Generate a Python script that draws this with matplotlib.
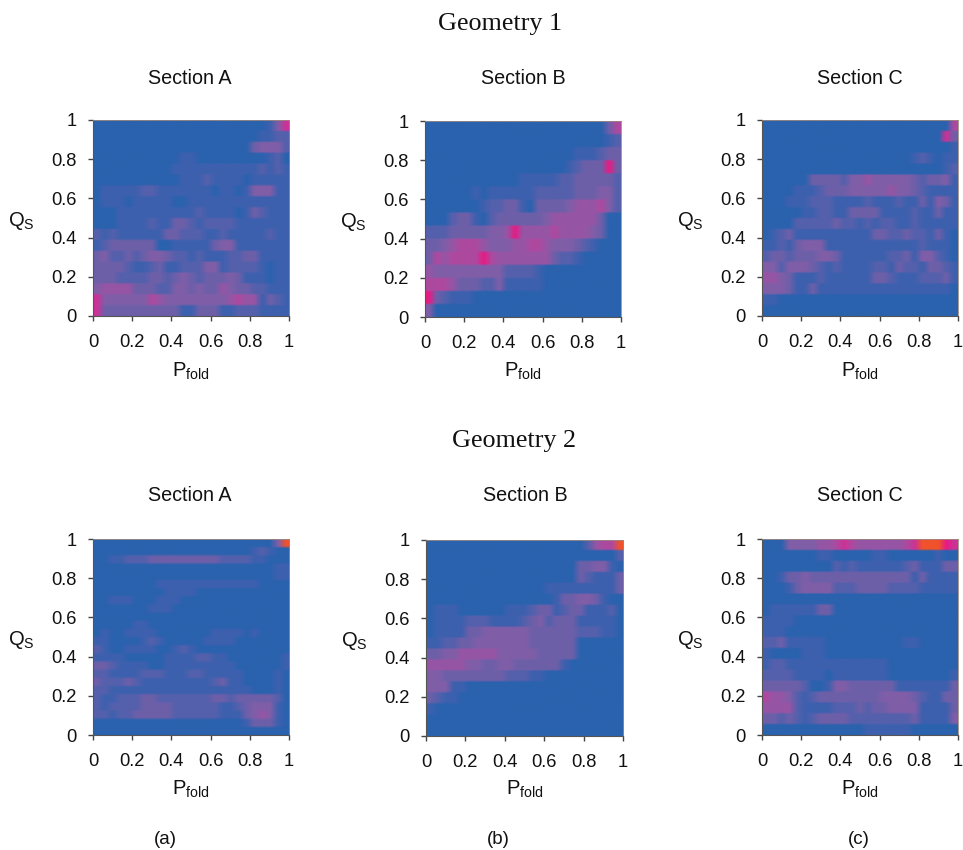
import numpy as np
import matplotlib
matplotlib.use('Agg')
import matplotlib.pyplot as plt
from matplotlib.colors import LinearSegmentedColormap

plt.rcParams['font.family'] = ['Liberation Sans', 'DejaVu Sans']
plt.rcParams['mathtext.fontset'] = 'custom'
plt.rcParams['mathtext.rm'] = 'Liberation Sans'
plt.rcParams['mathtext.default'] = 'regular'

# population per cell, 0-9, rows run from Qs=1 down to Qs=0, columns Pfold 0 to 1
geo1_a = [
 [0,0,0,0,0,0,0,0,0,0,0,0,0,0,0,0,0,0,0,0,0,0,1,4,7],
 [0,0,0,0,0,0,0,0,0,0,0,0,0,0,0,0,0,0,0,0,0,1,1,2,2],
 [0,0,0,0,0,0,0,0,0,0,0,0,0,0,0,0,0,0,0,0,3,4,4,4,2],
 [0,0,0,0,0,0,0,0,0,0,0,1,1,0,0,0,0,0,0,0,0,0,1,2,0],
 [0,0,0,0,0,0,0,0,0,0,1,1,1,1,1,1,1,1,1,1,1,2,1,2,1],
 [0,0,0,0,0,0,0,0,0,0,0,1,1,1,2,1,1,1,1,0,1,1,1,1,1],
 [0,1,1,1,1,1,2,2,1,1,1,1,1,1,1,0,1,1,0,1,4,4,4,1,1],
 [0,1,1,1,0,1,1,1,1,1,0,0,1,1,1,1,1,1,1,1,1,1,1,1,1],
 [0,0,0,1,1,1,1,1,1,1,1,1,1,2,1,1,1,1,0,1,3,2,1,1,1],
 [0,0,0,1,1,1,1,2,1,1,3,3,2,1,2,2,2,2,1,1,1,1,1,1,1],
 [2,1,2,1,1,1,1,1,1,3,3,2,2,2,1,1,2,1,1,1,1,1,2,1,1],
 [1,2,3,3,3,3,3,3,0,0,1,1,1,1,1,3,4,4,1,1,1,1,1,1,1],
 [3,4,2,2,3,2,3,4,4,3,2,2,1,2,1,1,1,2,2,3,3,1,1,1,1],
 [3,3,3,3,2,1,1,2,3,1,1,2,2,2,4,4,1,2,2,2,2,1,0,1,1],
 [3,3,3,2,2,2,2,3,3,2,3,4,3,2,3,3,3,4,3,1,1,1,0,1,1],
 [4,5,5,5,5,3,3,3,2,2,4,4,3,4,3,3,5,4,3,3,2,2,1,1,1],
 [7,4,4,4,4,4,4,6,5,4,4,4,4,4,4,4,4,5,6,5,5,1,3,2,1],
 [7,3,3,3,3,3,3,3,3,3,3,1,1,3,3,3,1,1,2,2,2,1,1,1,1],
]
geo1_b = [
 [0,0,0,0,0,0,0,0,0,0,0,0,0,0,0,0,0,0,0,0,0,0,0,3,6],
 [0,0,0,0,0,0,0,0,0,0,0,0,0,0,0,0,0,0,0,0,0,0,0,1,2],
 [0,0,0,0,0,0,0,0,0,0,0,0,0,0,0,0,0,0,0,1,1,1,2,3,3],
 [0,0,0,0,0,0,0,0,0,0,0,0,0,0,0,0,0,0,1,2,3,3,3,8,3],
 [0,0,0,0,0,0,0,0,0,0,0,0,1,1,1,1,1,2,2,3,3,3,3,3,2],
 [0,0,0,0,0,0,1,0,1,1,1,1,1,1,2,2,2,2,2,3,3,3,4,4,2],
 [0,0,0,0,0,0,0,1,2,2,3,3,1,0,3,3,3,3,4,5,5,5,6,4,2],
 [0,0,0,2,3,3,1,0,2,3,3,3,3,3,3,4,5,5,5,5,5,5,3,0,0],
 [2,2,2,3,3,3,3,3,4,4,5,8,5,5,5,5,6,5,5,5,5,4,3,0,0],
 [3,3,4,5,6,6,6,5,4,4,4,5,5,6,6,5,4,4,4,3,2,1,0,0,0],
 [3,6,5,6,6,6,6,8,6,5,5,5,5,5,5,5,3,2,2,1,0,0,0,0,0],
 [5,4,4,4,4,4,4,4,4,4,2,2,2,2,1,0,0,0,0,0,0,0,0,0,0],
 [6,6,6,5,3,3,3,2,2,4,1,1,1,1,1,0,0,0,0,0,0,0,0,0,0],
 [8,3,2,1,1,1,0,0,0,0,0,0,0,0,0,0,0,0,0,0,0,0,0,0,0],
 [4,0,0,0,0,0,0,0,0,0,0,0,0,0,0,0,0,0,0,0,0,0,0,0,0],
]
geo1_c = [
 [0,0,0,0,0,0,0,0,0,0,0,0,0,0,0,0,0,0,0,0,0,0,0,0,6],
 [0,0,0,0,0,0,0,0,0,0,0,0,0,0,0,0,0,0,0,0,0,0,0,7,3],
 [0,0,0,0,0,0,0,0,0,0,0,0,0,0,0,0,0,0,0,0,0,0,0,0,1],
 [0,0,0,0,0,0,0,0,0,0,0,0,0,0,0,0,0,0,0,1,2,1,0,1,1],
 [0,0,0,0,0,0,0,0,0,0,0,0,0,0,0,0,0,0,0,0,0,0,0,1,2],
 [0,0,0,0,0,0,3,3,3,3,2,4,4,5,4,4,4,4,4,3,2,3,3,4,1],
 [0,0,0,0,1,1,1,2,3,3,3,4,4,4,4,4,5,4,4,3,2,1,1,1,1],
 [0,0,0,1,1,1,2,2,2,1,1,1,1,2,1,1,1,2,1,1,3,1,4,3,1],
 [0,0,0,0,0,1,1,2,2,1,1,3,3,3,3,1,1,1,1,2,1,1,3,1,1],
 [0,0,0,0,2,2,2,2,2,3,2,2,1,2,1,2,2,1,1,2,1,1,1,1,1],
 [0,1,2,3,1,1,1,1,1,1,1,1,1,1,3,3,2,2,3,2,2,1,3,1,0],
 [1,1,2,1,3,4,4,4,1,1,1,1,1,1,1,1,1,1,1,1,2,1,1,1,0],
 [2,3,3,2,3,3,3,4,4,3,1,1,1,1,1,1,2,2,3,1,4,4,2,1,0],
 [4,4,2,4,4,4,3,2,1,2,1,1,1,1,2,2,1,3,2,2,1,3,3,2,1],
 [5,5,4,3,1,1,1,2,1,1,1,1,1,1,3,3,2,1,1,1,2,2,2,3,1],
 [4,4,4,3,1,1,3,1,1,1,1,1,1,1,1,1,1,1,1,1,1,1,1,1,0],
 [1,1,0,0,0,0,0,0,0,0,0,0,0,0,0,0,0,0,0,0,0,0,0,0,0],
 [0,0,0,0,0,0,0,0,0,0,0,0,0,0,0,0,0,0,0,0,0,0,0,0,0],
]
geo2_a = [
 [0,0,0,0,0,0,0,0,0,0,0,0,0,0,0,0,0,0,0,0,0,0,0,4,9],
 [0,0,0,0,0,0,0,0,0,0,0,0,0,0,0,0,0,0,0,0,1,2,1,0,0],
 [0,0,1,1,2,2,2,3,3,3,3,3,3,3,3,3,2,2,2,2,1,1,0,0,0],
 [0,0,0,0,0,0,0,0,0,0,0,0,0,0,0,0,0,0,0,0,0,0,0,1,1],
 [0,0,0,0,0,0,0,0,0,0,0,0,0,0,0,0,0,0,0,0,0,0,0,1,1],
 [0,0,0,0,0,0,0,0,1,1,1,1,1,1,1,1,1,1,1,1,1,0,0,0,0],
 [0,0,0,0,0,0,0,0,0,1,1,1,1,0,0,0,0,0,0,0,0,0,0,0,0],
 [0,0,1,1,1,0,0,0,1,1,1,0,0,0,0,0,0,0,0,0,0,0,0,0,0],
 [0,0,0,0,0,0,0,1,1,1,0,0,0,0,0,0,0,0,0,0,0,0,0,0,0],
 [0,0,0,0,0,0,0,0,0,0,0,0,0,0,0,0,0,0,0,0,0,0,0,0,0],
 [0,0,0,0,0,1,1,0,0,0,0,0,0,0,0,0,0,0,0,0,0,0,0,0,0],
 [0,1,0,0,1,1,1,1,0,0,0,0,0,0,0,1,1,1,1,0,1,0,0,0,0],
 [1,1,0,0,0,0,1,2,1,0,0,0,0,0,1,1,1,1,0,0,0,0,0,0,0],
 [2,1,0,0,1,1,1,1,0,0,1,2,1,0,0,0,0,0,0,0,0,0,0,0,0],
 [1,1,1,1,0,0,0,0,0,1,1,1,1,2,2,1,1,0,0,0,0,0,0,0,1],
 [3,3,2,1,1,1,1,0,0,1,1,1,1,1,1,1,1,1,0,0,0,0,0,0,1],
 [2,2,1,1,1,1,2,2,2,1,1,1,2,2,1,1,1,1,1,0,0,0,0,1,0],
 [3,2,2,2,3,2,1,1,1,1,1,1,1,1,1,2,3,1,1,0,0,0,0,1,0],
 [2,2,1,1,1,1,1,1,1,1,1,1,1,1,1,1,1,1,1,1,0,0,0,1,0],
 [2,1,1,2,2,2,3,3,2,2,2,2,2,2,2,3,3,2,3,3,3,3,3,2,0],
 [2,1,2,2,2,2,3,3,3,3,2,2,2,2,2,2,1,1,2,3,4,4,4,1,0],
 [2,2,1,2,2,3,3,3,3,3,2,2,2,2,2,2,1,1,1,3,4,5,4,1,0],
 [0,0,0,0,0,0,0,0,0,0,0,0,0,0,0,0,0,0,0,1,3,3,3,1,0],
 [0,0,0,0,0,0,0,0,0,0,0,0,0,0,0,0,0,0,0,0,0,0,0,0,0],
]
geo2_b = [
 [0,0,0,0,0,0,0,0,0,0,0,0,0,0,0,0,0,0,0,0,2,5,6,6,9],
 [0,0,0,0,0,0,0,0,0,0,0,0,0,0,0,0,0,0,0,0,0,0,0,0,2],
 [0,0,0,0,0,0,0,0,0,0,0,0,0,0,0,0,0,0,0,3,3,4,4,1,0],
 [0,0,0,0,0,0,0,0,0,0,0,0,0,0,0,0,0,0,0,3,2,1,1,1,3],
 [0,0,0,0,0,0,0,0,0,0,0,0,0,0,0,1,1,1,1,1,1,1,1,1,3],
 [0,0,0,0,0,0,0,0,0,0,0,0,0,0,0,0,1,3,3,4,4,3,1,0,0],
 [0,1,1,1,0,0,0,0,0,0,1,1,1,2,3,3,1,2,3,3,1,1,1,2,0],
 [0,1,1,1,1,2,2,2,1,1,1,1,2,3,4,2,3,3,3,1,1,1,1,1,0],
 [0,1,1,1,1,3,3,4,4,4,4,4,4,3,3,3,3,3,3,2,2,2,1,1,0],
 [1,1,2,2,3,3,4,4,4,4,4,4,4,3,3,3,3,3,3,0,0,0,0,0,0],
 [3,3,4,4,5,5,5,5,5,4,4,4,4,4,3,3,3,3,3,0,0,0,0,0,0],
 [5,5,5,5,5,4,4,3,3,4,4,3,3,3,3,3,3,1,0,0,0,0,0,0,0],
 [4,4,3,3,3,3,3,3,3,3,2,2,2,1,1,0,0,0,0,0,0,0,0,0,0],
 [4,4,4,1,1,0,0,0,0,0,0,0,0,0,0,0,0,0,0,0,0,0,0,0,0],
 [3,2,1,1,0,0,0,0,0,0,0,0,0,0,0,0,0,0,0,0,0,0,0,0,0],
 [1,0,0,0,0,0,0,0,0,0,0,0,0,0,0,0,0,0,0,0,0,0,0,0,0],
 [0,0,0,0,0,0,0,0,0,0,0,0,0,0,0,0,0,0,0,0,0,0,0,0,0],
 [0,0,0,0,0,0,0,0,0,0,0,0,0,0,0,0,0,0,0,0,0,0,0,0,0],
]
geo2_c = [
 [0,0,0,4,4,4,4,5,5,6,7,6,5,5,5,5,5,5,6,7,9,9,9,8,7],
 [0,0,0,0,0,0,0,1,1,0,0,0,0,0,1,1,0,0,0,0,0,0,1,0,0],
 [0,0,0,0,0,0,0,0,0,2,1,2,1,1,1,1,1,1,2,3,1,1,1,3,3],
 [0,0,1,3,3,4,3,3,3,3,3,3,3,3,3,3,3,3,3,1,3,1,1,1,1],
 [0,0,0,1,3,4,4,4,4,2,2,2,3,3,3,3,2,2,2,2,1,1,1,1,1],
 [0,0,0,0,0,0,0,0,0,0,0,0,0,0,0,0,0,0,0,0,0,0,0,0,0],
 [0,1,1,1,1,1,1,3,3,0,0,0,0,0,0,0,0,0,0,0,0,0,0,0,0],
 [1,1,1,1,0,0,0,0,0,0,0,0,0,0,0,0,0,0,0,0,0,0,0,0,0],
 [1,1,1,0,0,0,0,0,0,0,0,0,0,0,0,0,0,0,0,0,0,0,0,0,0],
 [2,2,3,1,1,1,1,1,0,0,0,0,0,0,0,0,0,0,1,1,0,0,0,0,0],
 [1,0,0,0,0,1,1,1,0,0,0,0,0,0,0,0,0,0,0,0,0,0,0,0,0],
 [1,2,2,1,1,1,1,1,1,1,1,1,1,1,1,1,0,0,0,0,0,0,0,0,0],
 [2,2,2,2,1,1,1,1,0,1,1,1,1,1,1,1,0,0,0,0,0,0,0,0,1],
 [3,3,3,3,3,2,0,0,1,4,4,3,3,3,3,3,3,1,1,1,1,1,1,1,3],
 [6,5,5,4,2,1,2,3,3,3,3,3,3,3,3,4,4,4,4,3,2,1,1,3,3],
 [5,5,5,5,2,1,1,1,1,2,2,2,3,2,3,3,4,4,4,4,1,1,1,1,3],
 [3,3,2,3,2,1,2,3,3,3,3,2,2,2,2,2,2,2,2,3,1,1,1,1,4],
 [0,0,0,0,0,0,0,0,0,0,0,0,0,1,1,1,1,1,1,0,0,0,0,0,0],
]

ticks = [0, 0.2, 0.4, 0.6, 0.8, 1]
tick_labels = ['0', '0.2', '0.4', '0.6', '0.8', '1']

cmap = LinearSegmentedColormap.from_list('fold', [
    (0.0, '#2a62ae'), (0.11, '#3e60ae'), (0.22, '#5560ac'), (0.33, '#6d5fa9'),
    (0.44, '#7f5ea8'), (0.55, '#9456a5'), (0.66, '#ab4ba0'), (0.78, '#cc3296'),
    (0.89, '#e61c84'), (1.0, '#f0522c')])

W, H = 963, 850
fig = plt.figure(figsize=(W / 100, H / 100), dpi=100)
fig.patch.set_facecolor('white')

def panel(grid, x0, x1, y0, y1, title, title_x, title_y, label_x, label_y):
    ax = fig.add_axes([x0 / W, 1 - y1 / H, (x1 - x0) / W, (y1 - y0) / H])
    # repeat rows so the smoothing mostly shows along Pfold
    rep = 90 // len(grid)
    cells = np.repeat(np.array(grid, dtype=float), rep, axis=0)
    ax.imshow(cells, cmap=cmap, vmin=0, vmax=9, extent=[0, 1, 0, 1],
              aspect='auto', interpolation='bilinear')
    ax.set_xticks(ticks)
    ax.set_xticklabels(tick_labels)
    ax.set_yticks(ticks)
    ax.set_yticklabels(tick_labels)
    ax.tick_params(length=3.6, width=1, color='#444444', labelsize=13.2, pad=9.5,
                   labelcolor='#111111')
    ax.tick_params(axis='y', pad=8)
    for s in ['top', 'right']:
        ax.spines[s].set_color('#9c8a80')
        ax.spines[s].set_linewidth(0.6)
    for s in ['left', 'bottom']:
        ax.spines[s].set_color('#555555')
        ax.spines[s].set_linewidth(0.8)
    fig.text(title_x / W, 1 - title_y / H, title, ha='center', va='center', fontsize=14.2, color='#111111')
    fig.text(label_x / W, 1 - label_y / H, r'$P_{fold}$', ha='center', va='center', fontsize=14.5, color='#111111')
    fig.text((x0 - 72) / W, 1 - ((y0 + y1) / 2 + 3) / H, r'$Q_{S}$', ha='center', va='center', fontsize=14.5, color='#111111')

panel(geo1_a, 93, 289, 120, 316, 'Section A', 190, 79, 191, 371)
panel(geo1_b, 425, 621, 121, 317, 'Section B', 523, 79, 523, 371)
panel(geo1_c, 762, 958, 120, 316, 'Section C', 860, 79, 860, 371)
panel(geo2_a, 93, 289, 539, 735, 'Section A', 190, 495, 191, 789)
panel(geo2_b, 426, 623, 540, 736, 'Section B', 525, 495, 525, 789)
panel(geo2_c, 762, 958, 539, 735, 'Section C', 860, 495, 860, 789)

fig.text(500 / W, 1 - 24 / H, 'Geometry 1', ha='center', va='center', fontsize=18.8,
         family='Liberation Serif', color='#111111')
fig.text(514 / W, 1 - 441 / H, 'Geometry 2', ha='center', va='center', fontsize=18.8,
         family='Liberation Serif', color='#111111')
for lab, x in zip(['(a)', '(b)', '(c)'], [165, 498, 859]):
    fig.text(x / W, 1 - 839 / H, lab, ha='center', va='center', fontsize=13.5, color='#111111')

fig.savefig('out.png', dpi=100)
